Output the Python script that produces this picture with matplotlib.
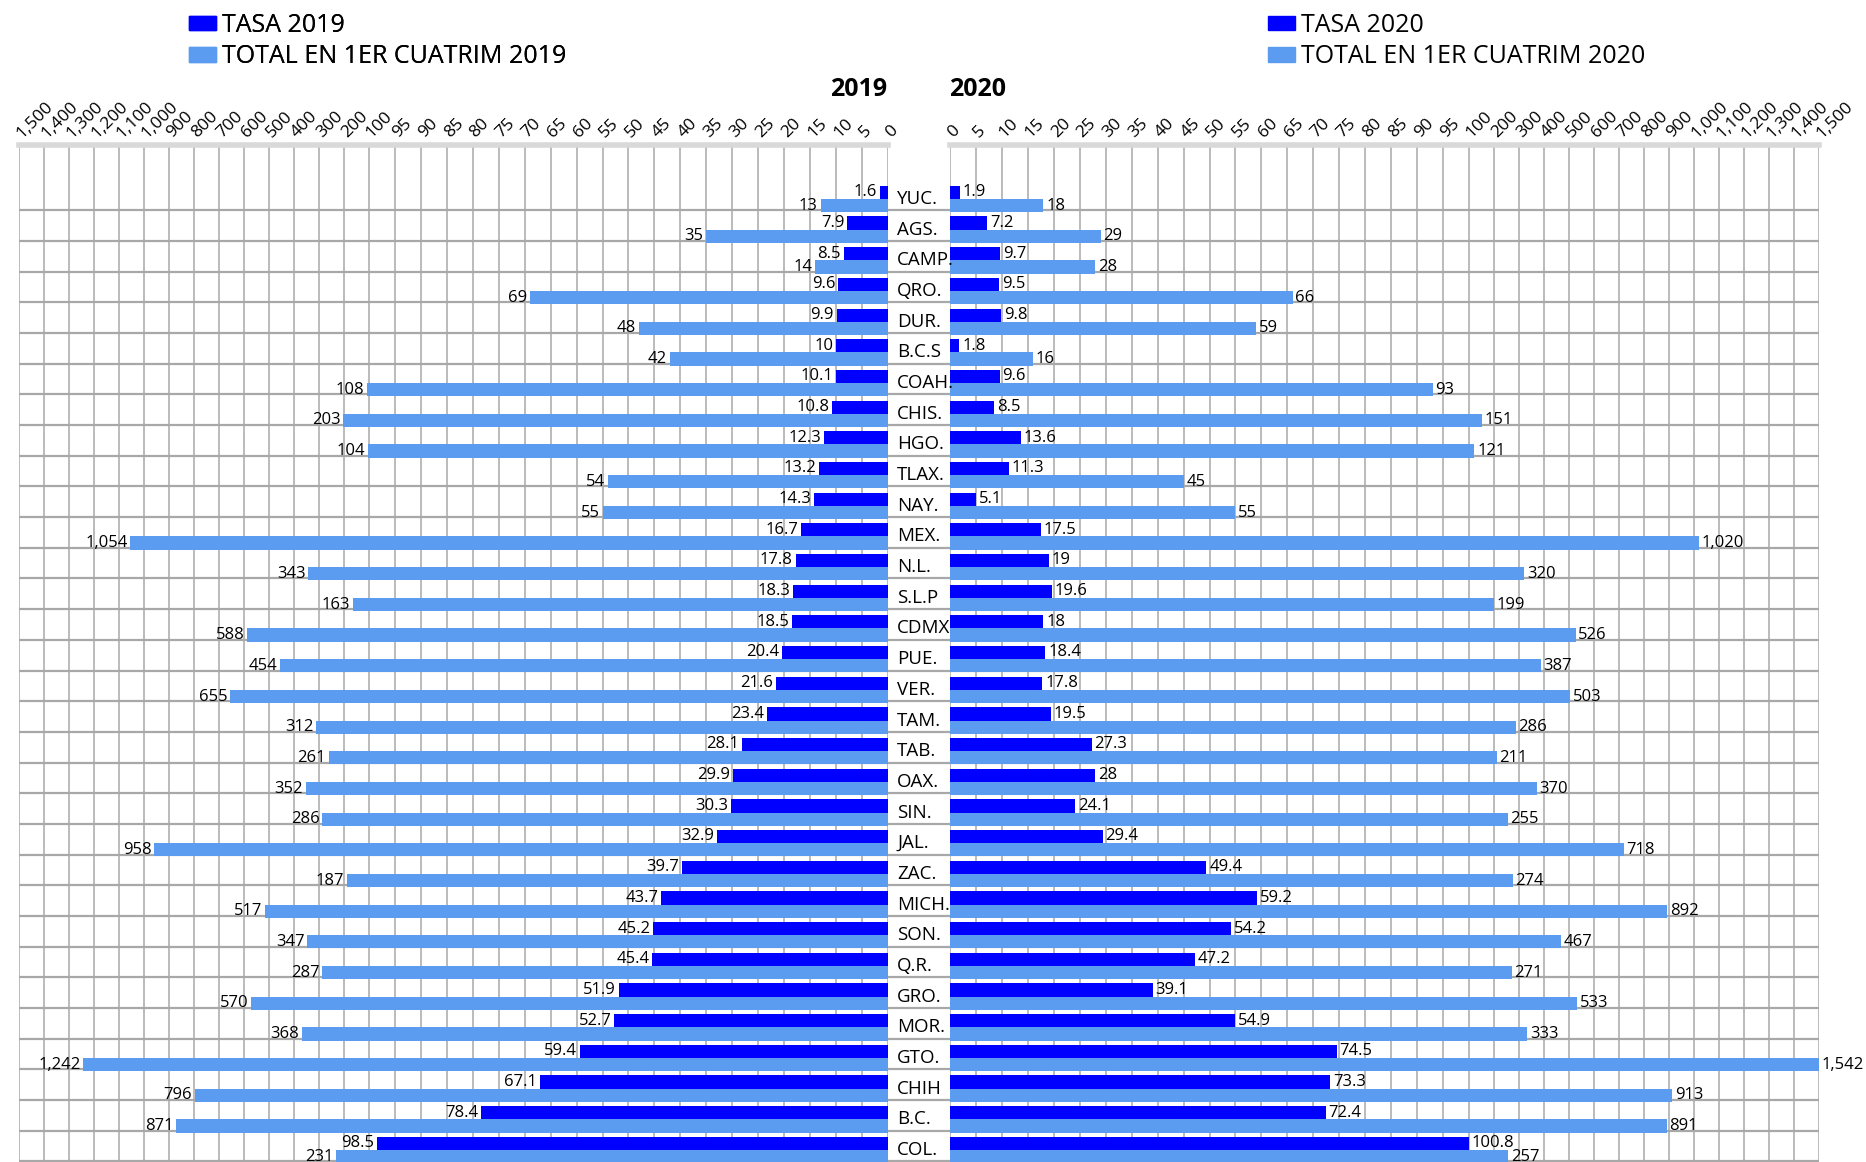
import numpy as np
import matplotlib
matplotlib.use("Agg")
import matplotlib.pyplot as plt
import matplotlib.transforms as mtransforms
from matplotlib.patches import Patch

plt.rcParams['font.family'] = ['Open Sans', 'DejaVu Sans']

# data
states = ['YUC.', 'AGS.', 'CAMP.', 'QRO.', 'DUR.', 'B.C.S', 'COAH.', 'CHIS.', 'HGO.', 'TLAX.',
          'NAY.', 'MEX.', 'N.L.', 'S.L.P', 'CDMX', 'PUE.', 'VER.', 'TAM.', 'TAB.', 'OAX.',
          'SIN.', 'JAL.', 'ZAC.', 'MICH.', 'SON.', 'Q.R.', 'GRO.', 'MOR.', 'GTO.', 'CHIH',
          'B.C.', 'COL.']
tasa_2019 = [1.6, 7.9, 8.5, 9.6, 9.9, 10, 10.1, 10.8, 12.3, 13.2,
             14.3, 16.7, 17.8, 18.3, 18.5, 20.4, 21.6, 23.4, 28.1, 29.9,
             30.3, 32.9, 39.7, 43.7, 45.2, 45.4, 51.9, 52.7, 59.4, 67.1,
             78.4, 98.5]
total_2019 = [13, 35, 14, 69, 48, 42, 108, 203, 104, 54,
              55, 1054, 343, 163, 588, 454, 655, 312, 261, 352,
              286, 958, 187, 517, 347, 287, 570, 368, 1242, 796,
              871, 231]
tasa_2020 = [1.9, 7.2, 9.7, 9.5, 9.8, 1.8, 9.6, 8.5, 13.6, 11.3,
             5.1, 17.5, 19, 19.6, 18, 18.4, 17.8, 19.5, 27.3, 28,
             24.1, 29.4, 49.4, 59.2, 54.2, 47.2, 39.1, 54.9, 74.5, 73.3,
             72.4, 100.8]
total_2020 = [18, 29, 28, 66, 59, 16, 93, 151, 121, 45,
              55, 1020, 320, 199, 526, 387, 503, 286, 211, 370,
              255, 718, 274, 892, 467, 271, 533, 333, 1542, 913,
              891, 257]

ticks = list(range(0, 101, 5)) + list(range(200, 1501, 100))
tick_labels = [f"{t:,}" for t in ticks]

dark = '#0000ff'
light = '#5b9bf0'
grid_c = '#a8a8a8'


# piecewise axis: 0-100 in steps of 5, then 100-1500 in steps of 100
def fwd(v):
    v = np.asarray(v, dtype=float)
    return np.where(v <= 100, v * 4.36, 436 + (v - 100) * 0.21)


def inv(u):
    u = np.asarray(u, dtype=float)
    return np.where(u <= 436, u / 4.36, 100 + (u - 436) / 0.21)


fig = plt.figure(figsize=(18.66, 11.62), dpi=100)
W, H = 1866, 1162
ax_l = fig.add_axes([19 / W, 0, 869 / W, 1 - 145 / H])
ax_r = fig.add_axes([950 / W, 0, 869 / W, 1 - 145 / H])

y = np.arange(len(states))
ygrid = y + 0.37
xmax = 1500

for ax, tasa, total, side in [(ax_l, tasa_2019, total_2019, -1),
                              (ax_r, tasa_2020, total_2020, 1)]:
    ax.set_xscale('function', functions=(fwd, inv))
    ax.barh(y - 0.215, tasa, height=0.43, color=dark, zorder=3)
    ax.barh(y + 0.215, total, height=0.43, color=light, zorder=3)
    ha = 'right' if side < 0 else 'left'
    for yi, t, n in zip(y, tasa, total):
        ax.annotate(f"{t:g}", xy=(t, yi - 0.22), xytext=(2 * side, 0),
                    textcoords='offset points', ha=ha, va='center', fontsize=12,
                    zorder=4)
        ax.annotate(f"{n:,}", xy=(min(n, xmax), yi + 0.22), xytext=(2 * side, 0),
                    textcoords='offset points', ha=ha, va='center', fontsize=12,
                    zorder=4, annotation_clip=False)
    if side < 0:
        ax.set_xlim(xmax, 0)
    else:
        ax.set_xlim(0, xmax)
    ax.set_ylim(31.39, -1.76)
    ax.set_xticks(ticks)
    ax.set_xticklabels(tick_labels)
    ax.xaxis.tick_top()
    ax.tick_params(axis='x', length=0, pad=7, labelsize=12.5)
    for lbl in ax.get_xticklabels():
        lbl.set_rotation(45)
        lbl.set_ha('left')
        lbl.set_va('center')
        lbl.set_rotation_mode('anchor')
    ax.set_yticks(ygrid)
    ax.tick_params(axis='y', length=0, labelleft=False)
    ax.grid(True, axis='x', color=grid_c, lw=1.1)
    ax.grid(True, axis='y', color=grid_c, lw=1.6)
    ax.set_axisbelow(True)
    for s in ['left', 'right', 'bottom']:
        ax.spines[s].set_visible(False)
    ax.spines['top'].set_color('#d9d9d9')
    ax.spines['top'].set_linewidth(4)

# state names and lines in the middle column
trans = mtransforms.blended_transform_factory(fig.transFigure, ax_r.transData)
for yi, name in zip(y, states):
    ax_r.text(897 / W, yi, name, transform=trans, ha='left', va='center',
              fontsize=13.5, clip_on=False)
ax_r.hlines(ygrid, 888 / W, 950 / W, transform=trans, color=grid_c, lw=1.6,
            clip_on=False)

fig.text(887 / W, 1 - 89 / H, '2019', ha='right', va='center', fontsize=18,
         fontweight='bold')
fig.text(949 / W, 1 - 89 / H, '2020', ha='left', va='center', fontsize=18,
         fontweight='bold')

leg1 = fig.legend(handles=[Patch(color=dark, label='TASA 2019'),
                           Patch(color=light, label='TOTAL EN 1ER CUATRIM 2019')],
                  loc='upper left', bbox_to_anchor=(166 / W, 1.008), frameon=False,
                  fontsize=18, handlelength=1.1, handleheight=0.5,
                  handletextpad=0.25, labelspacing=0.25)
fig.add_artist(leg1)
fig.legend(handles=[Patch(color=dark, label='TASA 2020'),
                    Patch(color=light, label='TOTAL EN 1ER CUATRIM 2020')],
           loc='upper left', bbox_to_anchor=(1245 / W, 1.008), frameon=False,
           fontsize=18, handlelength=1.1, handleheight=0.5,
           handletextpad=0.25, labelspacing=0.25)

fig.savefig('out.png', dpi=100)
